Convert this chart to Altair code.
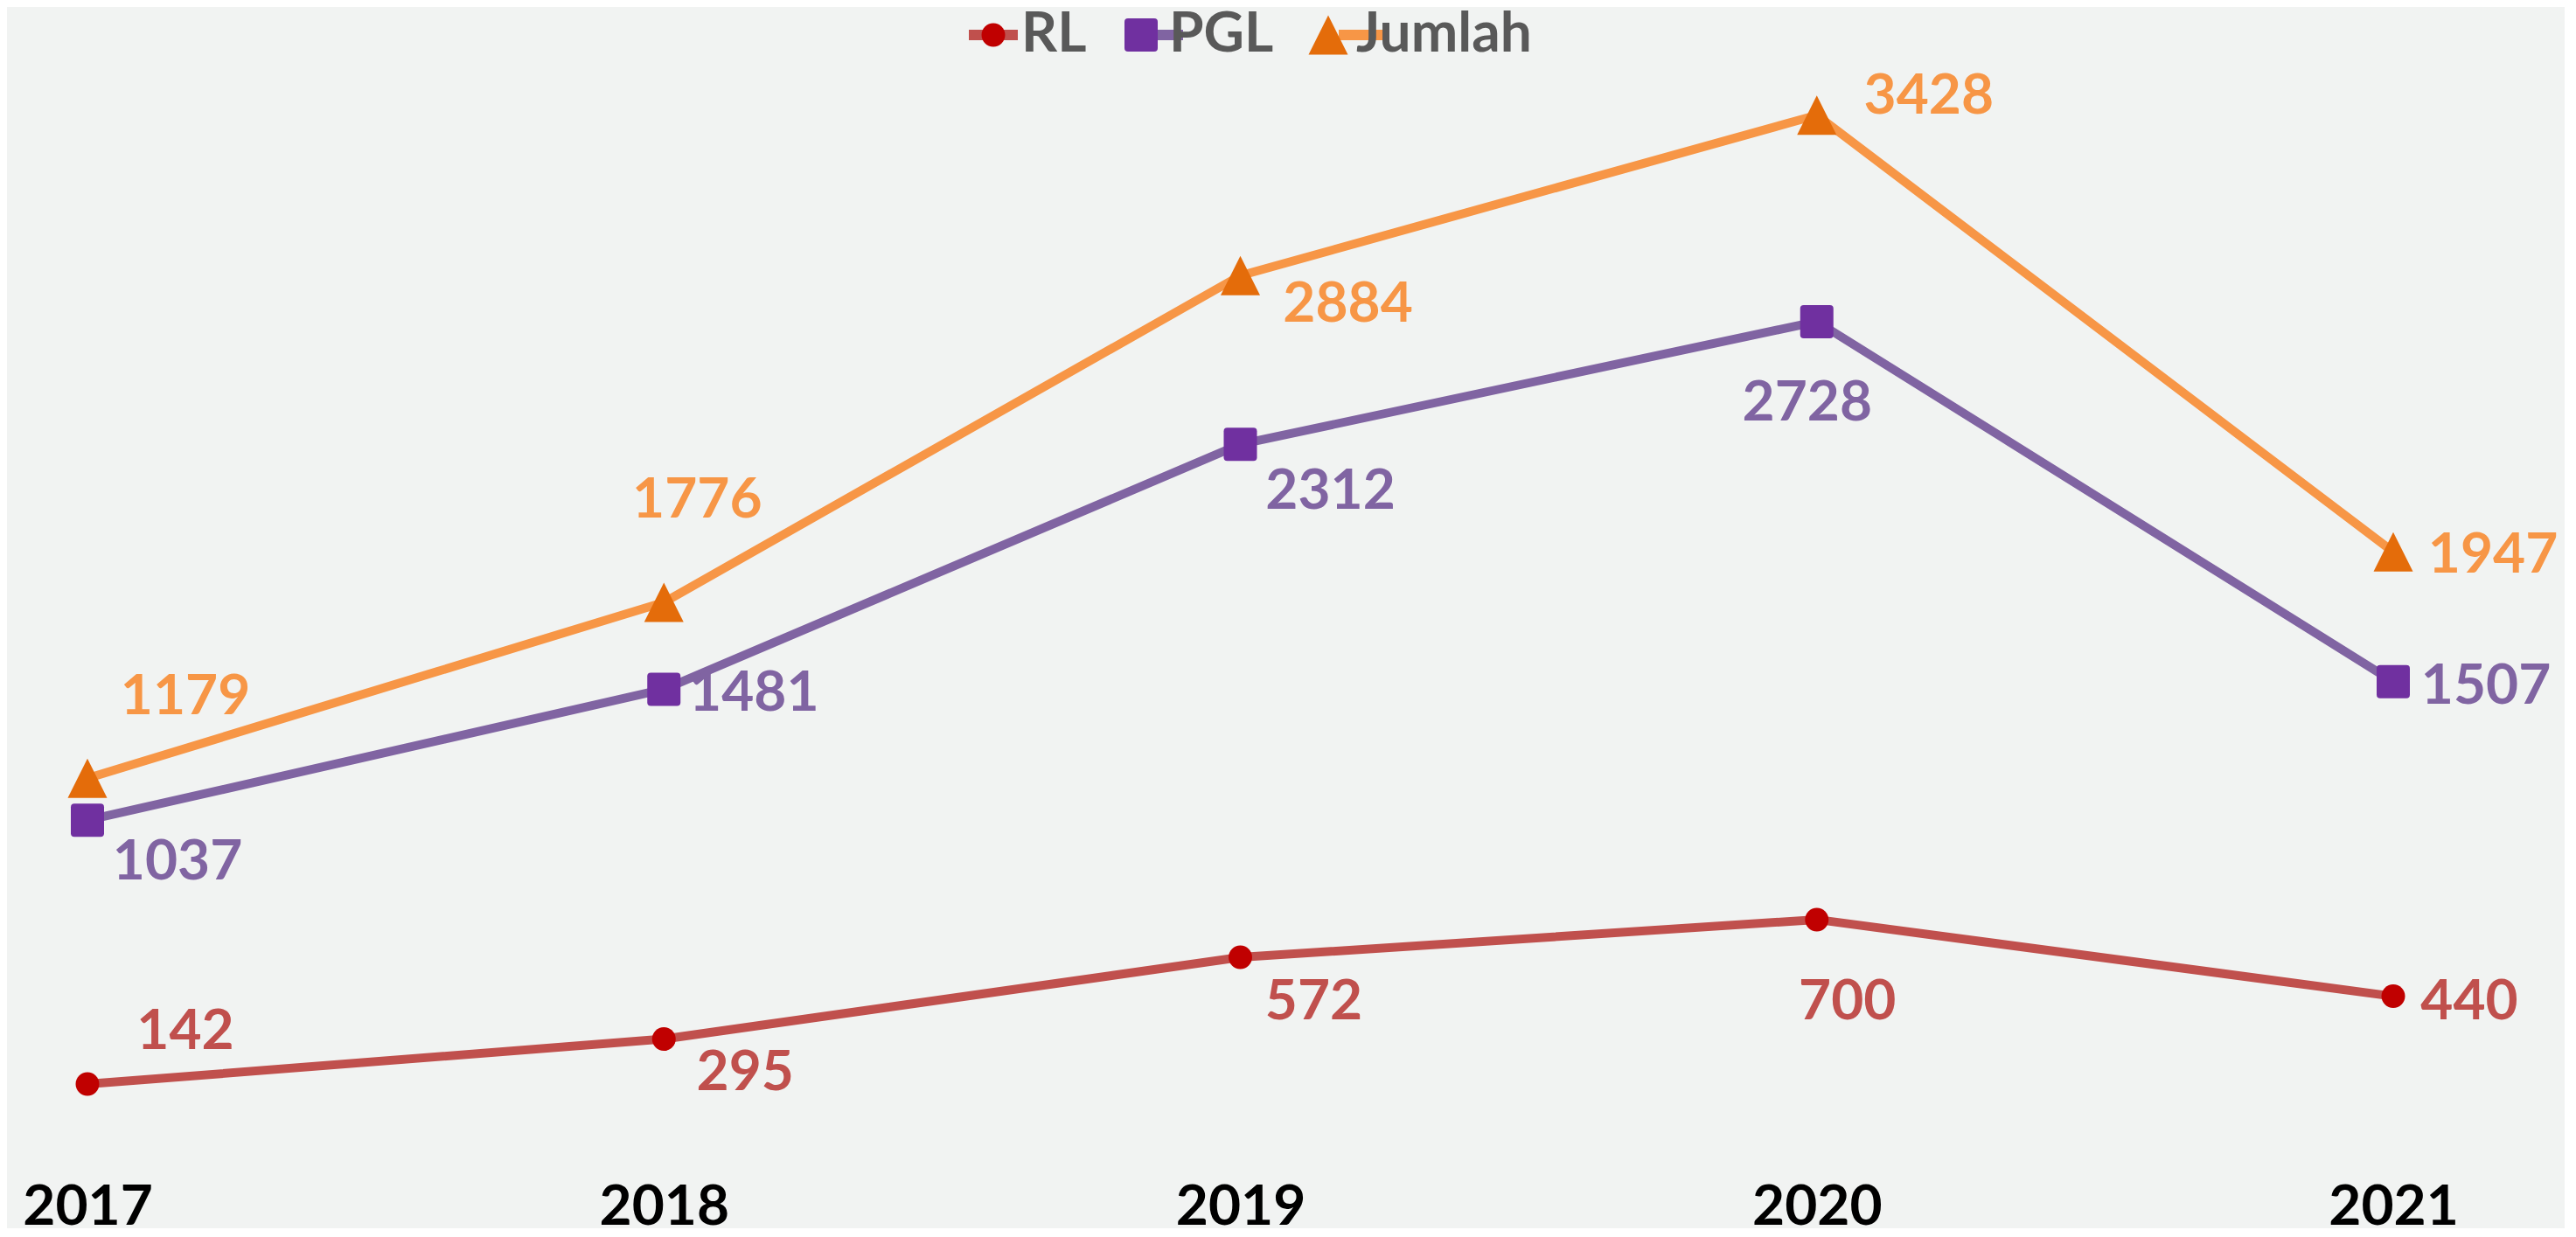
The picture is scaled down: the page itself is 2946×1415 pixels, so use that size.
import altair as alt
import pandas as pd

# ---- data ----
YEARS = [2017, 2018, 2019, 2020, 2021]
SERIES = ["RL", "PGL", "Jumlah"]
RL = [142, 295, 572, 700, 440]
PGL = [1037, 1481, 2312, 2728, 1507]
JUMLAH = [1179, 1776, 2884, 3428, 1947]

# data-label placement (pixel offset of each label from its point)
LABEL_DX_RL = [112, 93, 84, 35, 87]
LABEL_DY_RL = [-63, 35, 48, 91, 3]
LABEL_DX_PGL = [103, 103, 103, -11, 106]
LABEL_DY_PGL = [45, 2, 51, 90, 2]
LABEL_DX_JUMLAH = [112, 38, 123, 128, 114]
LABEL_DY_JUMLAH = [-96, -120, 30, -25, 1]

# ---- styles ----
LINE_COLORS = ["#C0504D", "#8064A2", "#F79646"]
MARKER_COLORS = ["#C00000", "#7030A0", "#E46C0A"]
MARKER_PATHS = [
    "M0.54,0 A0.54,0.54 0 1,1 -0.54,0 A0.54,0.54 0 1,1 0.54,0 Z",
    "M-0.6,-0.76 H0.6 Q0.76,-0.76 0.76,-0.6 V0.6 Q0.76,0.76 0.6,0.76 H-0.6 "
    "Q-0.76,0.76 -0.76,0.6 V-0.6 Q-0.76,-0.76 -0.6,-0.76 Z",
    "M0,-0.9 L0.9,0.9 L-0.9,0.9 Z",
]
BG = "#F1F3F2"
FONT = "Lato"
FS = 64

W, H = 2637, 1280
PAD = {"left": 92, "top": 0, "right": 196, "bottom": 117}
Y_MAX = 3795
PX_PER_YEAR = W / (YEARS[-1] - YEARS[0])
PX_PER_UNIT = H / Y_MAX
TEXT_FIX = 4  # baseline "middle" sits slightly above the digit centre

rows = []
for name, vals, dxs, dys in [
    ("RL", RL, LABEL_DX_RL, LABEL_DY_RL),
    ("PGL", PGL, LABEL_DX_PGL, LABEL_DY_PGL),
    ("Jumlah", JUMLAH, LABEL_DX_JUMLAH, LABEL_DY_JUMLAH),
]:
    for y, v, dx, dy in zip(YEARS, vals, dxs, dys):
        rows.append({"series": name, "year": y, "value": v, "dx": dx, "dy": dy})
df = pd.DataFrame(rows)

LEG_X, LEG_Y = 1004, 0
leg_common = dict(
    orient="none", legendX=LEG_X, legendY=LEG_Y, direction="horizontal",
    title=None, symbolSize=2500, labelFont=FONT, labelFontSize=FS,
    labelFontWeight="bold", labelColor="#595959", labelOffset=0,
    columnPadding=30, labelLimit=600,
)
leg_line = alt.Legend(symbolType="M-1.12,0L1.12,0", symbolStrokeWidth=12,
                      labelOpacity=0, **leg_common)
leg_mark = alt.Legend(symbolStrokeWidth=0, symbolOpacity=1, **leg_common)

x_enc = alt.X("year:Q", scale=alt.Scale(domain=[YEARS[0], YEARS[-1]], nice=False, zero=False),
              axis=alt.Axis(values=YEARS, format="d", title=None, ticks=False, tickSize=0,
                            domain=False, grid=False, labelFont=FONT, labelFontSize=FS,
                            labelFontWeight="bold", labelColor="#000000", labelPadding=61,
                            labelFlush=False, labelOverlap=False))
y_scale = alt.Scale(domain=[0, Y_MAX], nice=False, zero=True)

base = alt.Chart(df)

lines = base.mark_line(strokeWidth=10, strokeJoin="round", strokeCap="round").encode(
    x=x_enc,
    y=alt.Y("value:Q", scale=y_scale, axis=None),
    stroke=alt.Stroke("series:N", sort=SERIES, scale=alt.Scale(range=LINE_COLORS), legend=leg_line),
)

points = base.mark_point(filled=True, opacity=1, size=2500, strokeWidth=0).encode(
    x=alt.X("year:Q"),
    y=alt.Y("value:Q"),
    color=alt.Color("series:N", scale=alt.Scale(domain=SERIES, range=MARKER_COLORS), legend=leg_mark),
    shape=alt.Shape("series:N", scale=alt.Scale(domain=SERIES, range=MARKER_PATHS), legend=leg_mark),
)

labels = base.transform_calculate(
    lx=f"datum.year + datum.dx / {PX_PER_YEAR}",
    ly=f"datum.value - (datum.dy + {TEXT_FIX}) / {PX_PER_UNIT}",
).mark_text(font=FONT, fontSize=FS, fontWeight="bold", align="center", baseline="middle").encode(
    x=alt.X("lx:Q"),
    y=alt.Y("ly:Q"),
    text=alt.Text("value:Q", format="d"),
    fill=alt.Fill("series:N", scale=alt.Scale(domain=SERIES, range=LINE_COLORS), legend=None),
)

chart = alt.layer(lines, points, labels).properties(
    width=W, height=H, padding=PAD,
    autosize=alt.AutoSizeParams(type="none"),
    background=BG,
).configure_view(stroke=None)

chart.save("out.html", embed_options={"renderer": "svg", "actions": False})
